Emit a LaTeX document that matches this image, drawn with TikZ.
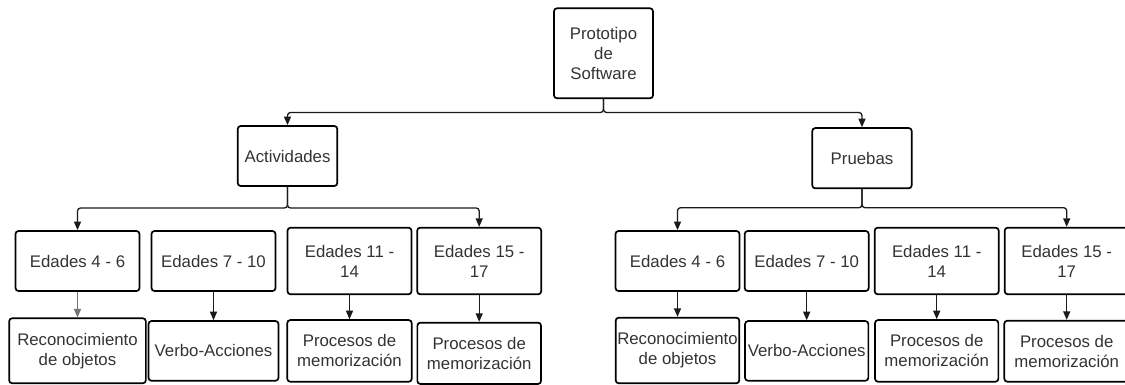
\documentclass[tikz,border=0pt]{standalone}
\usepackage{fontspec}
\setmainfont{Liberation Sans}
\usetikzlibrary{arrows.meta}
\definecolor{txt}{HTML}{333333}
\definecolor{lnk}{HTML}{1A1A1A}
\definecolor{lnkgray}{HTML}{757575}

\begin{document}
\begin{tikzpicture}[x=1pt, y=-1pt,
    box/.style={draw, rounded corners=3pt, line width=1.7pt, text=txt, align=center,
      inner sep=0pt, font=\fontsize{16.8}{20}\selectfont},
    edad/.style={box, minimum width=124pt, minimum height=60pt},
    edadl/.style={box, minimum width=124pt, minimum height=66.6pt},
    link/.style={draw=lnk, line width=1.3pt, rounded corners=3pt,
      -{Triangle[length=8.5pt, width=7pt]}}]
  \useasboundingbox (0, 0) rectangle (1125, 385);
  \node [box, minimum width=99pt, minimum height=90pt] (proto) at (603.5, 53.3) {Prototipo\\de\\Software};
  \node [box, minimum width=99.6pt, minimum height=60pt] (act) at (287.5, 156) {Actividades};
  \node [box, minimum width=99.4pt, minimum height=60.3pt] (pru) at (862, 158.2) {Pruebas};

  \node [edad] (a46) at (77.5, 261) {Edades 4 - 6};
  \node [edad] (a710) at (213.5, 261) {Edades 7 - 10};
  \node [edadl] (a1114) at (349.5, 261) {Edades 11 -\\14};
  \node [edadl] (a1517) at (479.2, 261) {Edades 15 -\\17};
  \node [box, minimum width=136.7pt, minimum height=65pt] (arec) at (77.5, 350.8) {Reconocimiento\\de objetos};
  \node [box, minimum width=130pt, minimum height=59.7pt] (aver) at (213.5, 350.9) {Verbo-Acciones};
  \node [box, minimum width=124.4pt, minimum height=61.7pt] (apro1) at (349.5, 350.9) {Procesos de\\memorización};
  \node [box, minimum width=123.7pt, minimum height=61.3pt] (apro2) at (479.2, 353.3) {Procesos de\\memorización};

  \node [edad] (p46) at (677.5, 261) {Edades 4 - 6};
  \node [edad] (p710) at (806.7, 261) {Edades 7 - 10};
  \node [edadl] (p1114) at (936.7, 261) {Edades 11 -\\14};
  \node [edadl] (p1517) at (1066.7, 261) {Edades 15 -\\17};
  \node [box, minimum width=123.6pt, minimum height=65.6pt] (prec) at (677.5, 350.5) {Reconocimiento\\de objetos};
  \node [box, minimum width=123.3pt, minimum height=59.7pt] (pver) at (806.7, 350.9) {Verbo-Acciones};
  \node [box, minimum width=123.3pt, minimum height=61.7pt] (ppro1) at (936.7, 350.9) {Procesos de\\memorización};
  \node [box, minimum width=124.8pt, minimum height=61pt] (ppro2) at (1066.7, 351.2) {Procesos de\\memorización};

  \coordinate (bus0) at (0, 112.5);
  \coordinate (busa) at (0, 208);
  \coordinate (busp) at (0, 207.7);
  \draw [link] (proto.south) -- (proto.south |- bus0) -| (act.north);
  \draw [link] (proto.south) -- (proto.south |- bus0) -| (pru.north);
  \draw [link] (act.south) -- (act.south |- busa) -| (a46.north);
  \draw [link] (act.south) -- (act.south |- busa) -| (a1517.north);
  \draw [link] (pru.south) -- (pru.south |- busp) -| (p46.north);
  \draw [link] (pru.south) -- (pru.south |- busp) -| (p1517.north);

  \draw [link, draw=lnkgray] (a46) -- (arec);
  \draw [link] (a710) -- (aver);
  \draw [link] (a1114) -- (apro1);
  \draw [link] (a1517) -- (apro2);
  \draw [link] (p46) -- (prec);
  \draw [link] (p710) -- (pver);
  \draw [link] (p1114) -- (ppro1);
  \draw [link] (p1517) -- (ppro2);
\end{tikzpicture}
\end{document}
